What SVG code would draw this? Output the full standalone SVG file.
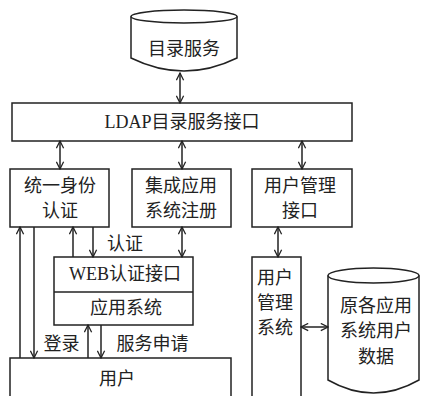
<svg xmlns="http://www.w3.org/2000/svg" width="425" height="396" viewBox="0 0 425 396">
<style>
.b{fill:#fff;stroke:#222;stroke-width:1.5}
.c{fill:none;stroke:#222;stroke-width:1.5}
text{font-family:"Liberation Serif","Noto Sans CJK SC",serif;font-size:18px;fill:#222;text-anchor:middle}
</style>
<defs>
<marker id="a" viewBox="0 0 10 10" refX="9" refY="5" markerWidth="9" markerHeight="9" markerUnits="userSpaceOnUse" orient="auto-start-reverse">
<path d="M1,1 L9,5 L1,9" fill="none" stroke="#222" stroke-width="1.4"/>
</marker>
</defs>
<rect width="425" height="396" fill="#fff"/>
<g id="dir">
<path class="b" d="M131,16.5 A53,6.5 0 0 1 237,16.5 L237,58 Q184,84 131,58 Z"/>
<path class="c" d="M131,16.5 A53,6.5 0 0 0 237,16.5"/>
<text x="184" y="54.5">目录服务</text>
</g>
<g id="ldap">
<rect class="b" x="12" y="103" width="340" height="38"/>
<text x="182" y="128">LDAP目录服务接口</text>
</g>
<g id="auth">
<rect class="b" x="10" y="169" width="99" height="58"/>
<text x="60" y="191.5">统一身份</text>
<text x="60" y="216.5">认证</text>
</g>
<g id="reg">
<rect class="b" x="132" y="169" width="99" height="58"/>
<text x="181" y="191.5">集成应用</text>
<text x="181" y="216.5">系统注册</text>
</g>
<g id="umi">
<rect class="b" x="252" y="169" width="100" height="58"/>
<text x="300" y="191.5">用户管理</text>
<text x="300" y="216.5">接口</text>
</g>
<g id="web">
<rect class="b" x="54" y="257" width="139" height="68"/>
<line class="c" x1="54" y1="292" x2="193" y2="292"/>
<text x="125" y="280">WEB认证接口</text>
<text x="126" y="313.5">应用系统</text>
</g>
<g id="user">
<rect class="b" x="10" y="358" width="221" height="40"/>
<text x="117" y="384.5">用户</text>
</g>
<g id="ums">
<rect class="b" x="252" y="257" width="49" height="141"/>
<text x="275" y="283.5">用户</text>
<text x="275" y="309">管理</text>
<text x="275" y="333.5">系统</text>
</g>
<g id="data">
<path class="b" d="M328,275.5 A45.5,7.5 0 0 1 419,275.5 L419,380 Q373.5,406 328,380 Z"/>
<path class="c" d="M328,275.5 A45.5,7.5 0 0 0 419,275.5"/>
<text x="376" y="311.5">原各应用</text>
<text x="376" y="337">系统用户</text>
<text x="376" y="363">数据</text>
</g>
<g id="connectors" class="c">
<line x1="180" y1="73" x2="180" y2="103" marker-start="url(#a)" marker-end="url(#a)"/>
<line x1="60" y1="141" x2="60" y2="169" marker-start="url(#a)" marker-end="url(#a)"/>
<line x1="182" y1="141" x2="182" y2="169" marker-start="url(#a)" marker-end="url(#a)"/>
<line x1="302" y1="141" x2="302" y2="169" marker-start="url(#a)" marker-end="url(#a)"/>
<line x1="20" y1="358" x2="20" y2="227" marker-end="url(#a)"/>
<line x1="34" y1="227" x2="34" y2="358" marker-end="url(#a)"/>
<line x1="73" y1="257" x2="73" y2="227" marker-end="url(#a)"/>
<line x1="93" y1="227" x2="93" y2="257" marker-end="url(#a)"/>
<line x1="182" y1="227" x2="182" y2="257" marker-start="url(#a)" marker-end="url(#a)"/>
<line x1="278" y1="227" x2="278" y2="257" marker-start="url(#a)" marker-end="url(#a)"/>
<line x1="88" y1="358" x2="88" y2="325" marker-end="url(#a)"/>
<line x1="101" y1="325" x2="101" y2="358" marker-end="url(#a)"/>
<line x1="301" y1="327" x2="328" y2="327" marker-start="url(#a)" marker-end="url(#a)"/>
</g>
<g id="labels">
<text x="125" y="249.5">认证</text>
<text x="61.5" y="349.5">登录</text>
<text x="152.5" y="349.5">服务申请</text>
</g>
</svg>
